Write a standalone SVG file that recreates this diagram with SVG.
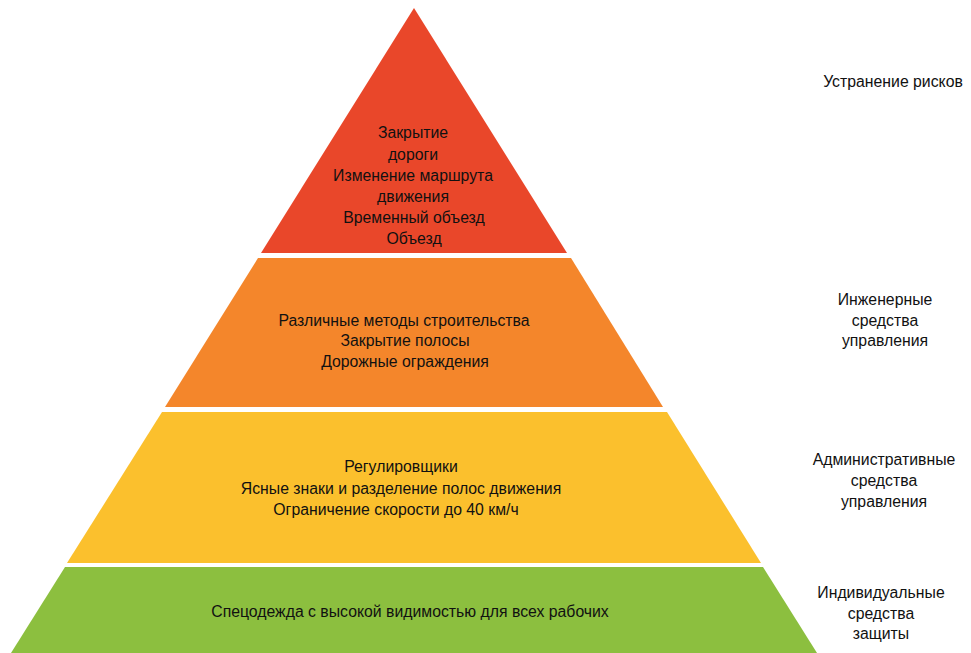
<svg xmlns="http://www.w3.org/2000/svg" width="971" height="653" viewBox="0 0 971 653">
<style>
text{font-family:"Liberation Sans","Noto Sans",sans-serif;font-size:15.8px;fill:#111111;text-anchor:middle}
</style>
<rect width="971" height="653" fill="#ffffff"/>
<g id="level-risk-elimination">
<polygon points="414,8 567,253 261,253" fill="#E9472A"/>
<text x="413" y="138">Закрытие</text>
<text x="413" y="160">дороги</text>
<text x="413" y="181">Изменение маршрута</text>
<text x="413" y="202">движения</text>
<text x="414" y="223">Временный объезд</text>
<text x="414" y="244">Объезд</text>
</g>
<g id="level-engineering">
<polygon points="258,258 571,258 663,407 165,407" fill="#F4862B"/>
<text x="404" y="326">Различные методы строительства</text>
<text x="405" y="346">Закрытие полосы</text>
<text x="405" y="367">Дорожные ограждения</text>
</g>
<g id="level-administrative">
<polygon points="162,412 667,412 761,563 67,563" fill="#FBC02D"/>
<text x="401" y="472">Регулировщики</text>
<text x="401" y="494">Ясные знаки и разделение полос движения</text>
<text x="396" y="515">Ограничение скорости до 40 км/ч</text>
</g>
<g id="level-ppe">
<polygon points="65,567 763,567 817,653 11,653" fill="#8CBF3F"/>
<text x="410" y="617">Спецодежда с высокой видимостью для всех рабочих</text>
</g>
<g id="labels">
<text x="893" y="87">Устранение рисков</text>
<text x="885" y="305">Инженерные</text>
<text x="885" y="326">средства</text>
<text x="885" y="346">управления</text>
<text x="884" y="465">Административные</text>
<text x="884" y="486">средства</text>
<text x="884" y="507">управления</text>
<text x="881" y="598">Индивидуальные</text>
<text x="881" y="619">средства</text>
<text x="881" y="639">защиты</text>
</g>
<g id="connectors"></g>
</svg>
